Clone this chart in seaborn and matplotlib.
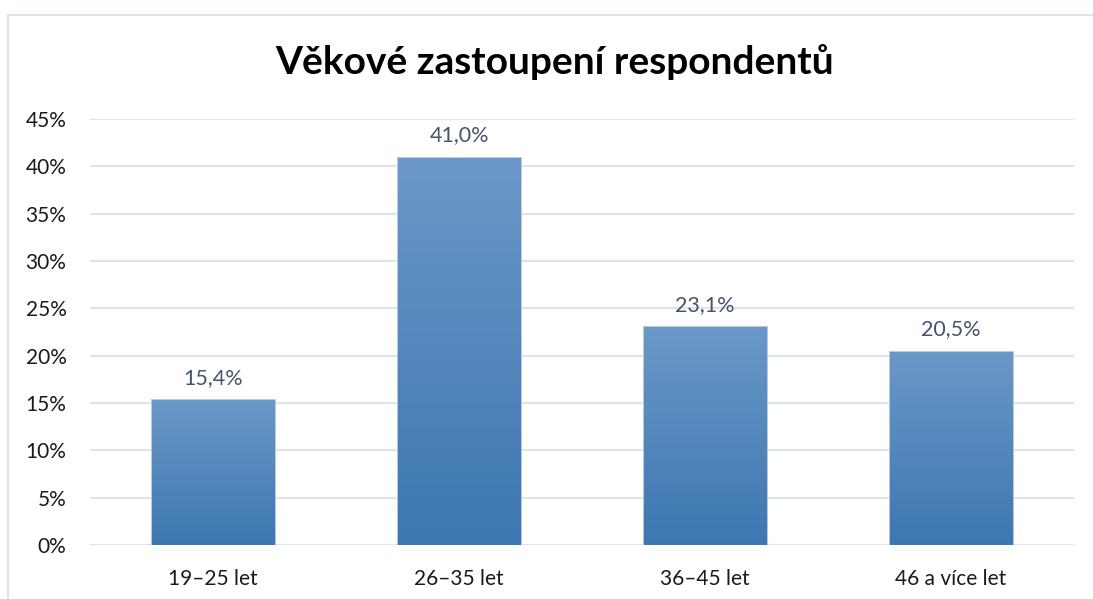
import numpy as np
import pandas as pd
import matplotlib
matplotlib.use("Agg")
import matplotlib.pyplot as plt
import seaborn as sns
from matplotlib.colors import LinearSegmentedColormap
from matplotlib.patches import Rectangle

categories = ["19–25 let", "26–35 let", "36–45 let", "46 a více let"]
values = [15.4, 41.0, 23.1, 20.5]
value_labels = ["15,4%", "41,0%", "23,1%", "20,5%"]
y_ticks = [0, 5, 10, 15, 20, 25, 30, 35, 40, 45]

df = pd.DataFrame({"kategorie": categories, "podil": values})

sns.set_style("white")
plt.rcParams["font.family"] = ["Lato", "DejaVu Sans"]

fig = plt.figure(figsize=(10.93, 5.99), dpi=100)
ax = fig.add_axes([90 / 1093, 1 - 545 / 599, 984 / 1093, 426 / 599])

sns.barplot(data=df, x="kategorie", y="podil", color="#4f86c0", width=0.505, ax=ax,
            zorder=3)

# gradient fill inside each bar
cmap = LinearSegmentedColormap.from_list("grad", ["#3d77b1", "#6b98c7"])
grad = np.linspace(0, 1, 256).reshape(-1, 1)
for p in ax.patches:
    x0, y0 = p.get_x(), p.get_y()
    w, h = p.get_width(), p.get_height()
    p.set_facecolor("none")
    p.set_edgecolor("none")
    im = ax.imshow(grad, cmap=cmap, origin="lower", aspect="auto",
                   extent=[x0, x0 + w, y0, y0 + h], zorder=3)
    im.set_clip_path(p)
    ax.add_patch(Rectangle((x0, y0), w, h, fill=False, edgecolor="#c9d6e6",
                           linewidth=0.6, zorder=4))

for i, (v, lab) in enumerate(zip(values, value_labels)):
    ax.text(i, v + 1.2, lab, ha="center", va="bottom", fontsize=15.5,
            color="#44546a", zorder=5)

ax.set_xlim(-0.5, 3.5)
ax.set_ylim(0, 45)
ax.set_yticks(y_ticks)
ax.set_yticklabels([f"{t}%" for t in y_ticks], fontsize=15, color="#1a1a1a")
ax.tick_params(axis="x", labelsize=15, colors="#1a1a1a", pad=17, length=0)
ax.tick_params(axis="y", pad=17, length=0)
ax.set_xlabel("")
ax.set_ylabel("")
ax.grid(axis="y", color="#dfe4ea", linewidth=1.6, zorder=0)
for s in ax.spines.values():
    s.set_visible(False)

fig.text(0.5 + 8 / 1093, 1 - 62 / 599, "Věkové zastoupení respondentů", ha="center",
         va="center", fontsize=28, fontweight="bold", color="black")

# outer chart frame
fig.add_artist(plt.Line2D([8 / 1093, 1.0], [1 - 15 / 599, 1 - 15 / 599],
                          transform=fig.transFigure, color="#dfe4ea", linewidth=1.6))
fig.add_artist(plt.Line2D([8 / 1093, 8 / 1093], [0, 1 - 15 / 599],
                          transform=fig.transFigure, color="#dfe4ea", linewidth=1.6))

fig.savefig("out.png", dpi=100)
